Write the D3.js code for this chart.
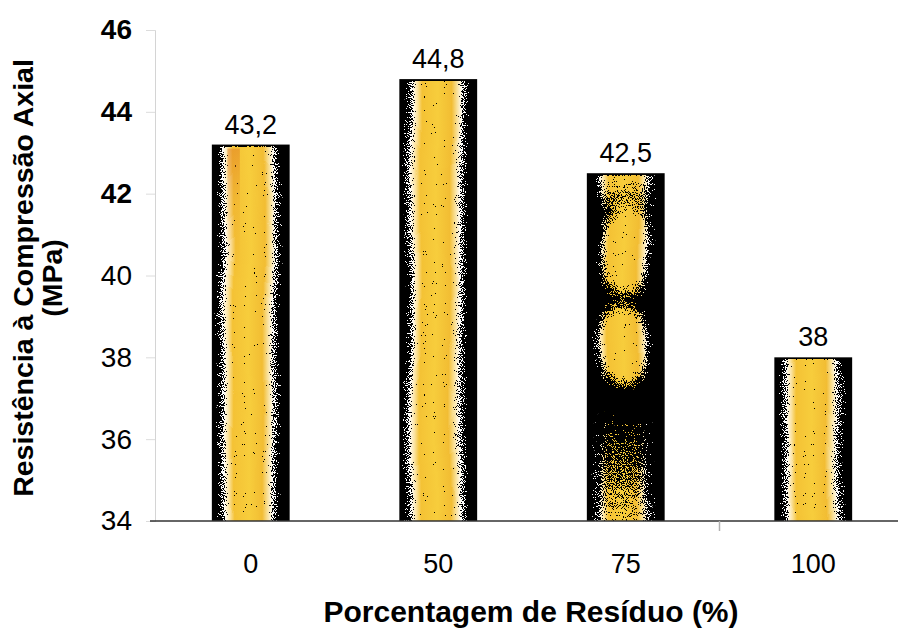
<!DOCTYPE html>
<html>
<head>
<meta charset="utf-8">
<script src="https://cdn.jsdelivr.net/npm/d3@7"></script>
<style>
  body { margin: 0; background: #fff; }
  text { font-family: Arial, "Liberation Sans", sans-serif; fill: #000; }
</style>
</head>
<body>
<script>
// Chart data.
var categories = ["0", "50", "75", "100"],
  values = [43.2, 44.8, 42.5, 38],
  valueLabels = ["43,2", "44,8", "42,5", "38"],
  yTicks = [34, 36, 38, 40, 42, 44, 46];

// Configuration parameters.
var width = 898,
  height = 629,
  plotLeft = 155,
  plotTop = 30,
  plotBottom = 521;

var svg = d3.select("body").append("svg")
    .attr("width", width)
    .attr("height", height),
  defs = svg.append("defs");

// Scales.
var x = d3.scaleBand()
    .domain(categories)
    .range([157, 907])
    .paddingInner(0.585)
    .paddingOuter(0.2925),
  y = d3.scaleLinear()
    .domain([34, 46])
    .range([plotBottom, plotTop]);

// Yellow core of the bars: opaque in the middle, fading out at the sides.
var core = defs.append("linearGradient")
    .attr("id", "core");
[
  [0.05, "#ffffff", 0],
  [0.15, "#ffffff", 0.55],
  [0.22, "#fbe3a0", 1],
  [0.28, "#f4c235", 1],
  [0.48, "#f7cd3c", 1],
  [0.66, "#f2bd33", 1],
  [0.72, "#f8dc8c", 1],
  [0.80, "#ffffff", 0.55],
  [0.90, "#ffffff", 0]
].forEach(function(s) {
  core.append("stop")
    .attr("offset", s[0])
    .attr("stop-color", s[1])
    .attr("stop-opacity", s[2]);
});

// Orange tint laid over part of the core.
var tint = defs.append("linearGradient")
    .attr("id", "tint")
    .attr("x1", 0).attr("y1", 0).attr("x2", 0).attr("y2", 1);
tint.append("stop").attr("offset", 0).attr("stop-color", "#e07a22").attr("stop-opacity", 0.5);
tint.append("stop").attr("offset", 0.4).attr("stop-color", "#e07a22").attr("stop-opacity", 0.15);
tint.append("stop").attr("offset", 1).attr("stop-color", "#e07a22").attr("stop-opacity", 0);

// Speckle filter: wobbles the core and dithers its soft edges into dots.
var f = defs.append("filter")
    .attr("id", "speckle")
    .attr("x", 0).attr("y", 0).attr("width", 1).attr("height", 1)
    .attr("primitiveUnits", "userSpaceOnUse")
    .attr("color-interpolation-filters", "sRGB");
f.append("feTurbulence")
  .attr("type", "fractalNoise")
  .attr("baseFrequency", "0.01 0.008")
  .attr("numOctaves", 2)
  .attr("seed", 3)
  .attr("result", "wave");
f.append("feColorMatrix")
  .attr("in", "wave")
  .attr("type", "matrix")
  .attr("values", "1 0 0 0 0  0 0 0 0 0.5  0 0 0 0 0  0 0 0 0 1")
  .attr("result", "waveXY");
f.append("feDisplacementMap")
  .attr("in", "SourceGraphic")
  .attr("in2", "waveXY")
  .attr("scale", 10)
  .attr("xChannelSelector", "R")
  .attr("yChannelSelector", "G")
  .attr("result", "wobbled");
f.append("feTurbulence")
  .attr("type", "fractalNoise")
  .attr("baseFrequency", 0.9)
  .attr("numOctaves", 1)
  .attr("seed", 7)
  .attr("result", "noise");
f.append("feColorMatrix")
  .attr("in", "noise")
  .attr("type", "matrix")
  .attr("values", "0 0 0 0 0  0 0 0 0 0  0 0 0 0 0  2.2 0 0 0 -0.6")
  .attr("result", "n");
f.append("feComposite")
  .attr("in", "wobbled")
  .attr("in2", "n")
  .attr("operator", "arithmetic")
  .attr("k2", 1).attr("k3", -1).attr("k4", 0)
  .attr("result", "diff");
var ct = f.append("feComponentTransfer")
  .attr("in", "diff")
  .attr("result", "m");
ct.append("feFuncA").attr("type", "linear").attr("slope", 40).attr("intercept", 0);
f.append("feComposite")
  .attr("in", "wobbled")
  .attr("in2", "m")
  .attr("operator", "in")
  .attr("result", "dots");
var op = f.append("feComponentTransfer")
  .attr("in", "dots");
op.append("feFuncA").attr("type", "linear").attr("slope", 20).attr("intercept", 0);

// Mask giving the 75% bar its blotchy look.
var blobGrad = defs.append("radialGradient")
    .attr("id", "blob");
blobGrad.append("stop").attr("offset", 0).attr("stop-color", "#fff");
blobGrad.append("stop").attr("offset", 0.6).attr("stop-color", "#fff");
blobGrad.append("stop").attr("offset", 1).attr("stop-color", "#fff").attr("stop-opacity", 0);
var fadeGrad = defs.append("linearGradient")
    .attr("id", "fade")
    .attr("x1", 0).attr("y1", 0).attr("x2", 0).attr("y2", 1);
fadeGrad.append("stop").attr("offset", 0).attr("stop-color", "#fff").attr("stop-opacity", 0);
fadeGrad.append("stop").attr("offset", 1).attr("stop-color", "#fff").attr("stop-opacity", 0.8);
var topGrad = defs.append("linearGradient")
    .attr("id", "topband")
    .attr("x1", 0).attr("y1", 0).attr("x2", 0).attr("y2", 1);
topGrad.append("stop").attr("offset", 0).attr("stop-color", "#fff").attr("stop-opacity", 0.95);
topGrad.append("stop").attr("offset", 1).attr("stop-color", "#fff").attr("stop-opacity", 0.3);

var m75 = defs.append("mask")
    .attr("id", "mask75")
    .attr("maskContentUnits", "objectBoundingBox");
m75.append("rect").attr("x", 0.12).attr("y", 0).attr("width", 0.76).attr("height", 0.1).attr("fill", "url(#topband)");
m75.append("ellipse").attr("cx", 0.52).attr("cy", 0.215).attr("rx", 0.42).attr("ry", 0.16).attr("fill", "url(#blob)");
m75.append("ellipse").attr("cx", 0.48).attr("cy", 0.49).attr("rx", 0.42).attr("ry", 0.14).attr("fill", "url(#blob)");
m75.append("rect").attr("x", 0).attr("y", 0.68).attr("width", 1).attr("height", 0.32).attr("fill", "url(#fade)");

// Bars.
var bars = svg.append("g")
  .selectAll("g")
    .data(values)
  .enter().append("g");

bars.append("rect")
    .attr("x", function(d, i) { return x(categories[i]); })
    .attr("y", function(d) { return y(d); })
    .attr("width", x.bandwidth())
    .attr("height", function(d) { return y(34) - y(d); })
    .style("fill", "#000");

bars.append("g")
    .attr("filter", "url(#speckle)")
  .append("rect")
    .attr("x", function(d, i) { return x(categories[i]); })
    .attr("y", function(d) { return y(d) + 2; })
    .attr("width", x.bandwidth())
    .attr("height", function(d) { return y(34) - y(d) - 2; })
    .attr("mask", function(d, i) { return categories[i] === "75" ? "url(#mask75)" : null; })
    .style("fill", "url(#core)");

// Orange streak near the top-left of the first bar.
bars.filter(function(d, i) { return i === 0; })
  .append("rect")
    .attr("x", function(d, i) { return x(categories[0]) + x.bandwidth() * 0.2; })
    .attr("y", function(d) { return y(d) + 4; })
    .attr("width", x.bandwidth() * 0.16)
    .attr("height", function(d) { return (y(34) - y(d)) * 0.35; })
    .style("fill", "url(#tint)");

// Value labels.
bars.append("text")
    .attr("x", function(d, i) { return x(categories[i]) + x.bandwidth() / 2; })
    .attr("y", function(d) { return y(d) - 11; })
    .attr("text-anchor", "middle")
    .style("font-size", "27px")
    .text(function(d, i) { return valueLabels[i]; });

// Y axis.
var yAxis = svg.append("g")
    .attr("transform", "translate(" + plotLeft + ",0)")
    .call(d3.axisLeft(y).tickValues(yTicks).tickSize(9).tickPadding(14));
yAxis.select(".domain").attr("stroke", "#d4d4d4");
yAxis.selectAll(".tick line").attr("stroke", "#dcdcdc");
yAxis.selectAll(".tick text")
    .style("font-family", 'Arial, "Liberation Sans", sans-serif')
    .style("font-size", "28px")
    .style("font-weight", function(d) { return d >= 42 ? "bold" : "normal"; })
    .attr("fill", "#000");

// X axis.
var xAxis = svg.append("g")
    .attr("transform", "translate(0," + plotBottom + ")")
    .call(d3.axisBottom(x).tickSize(0).tickPadding(33));
xAxis.select(".domain").remove();
xAxis.selectAll(".tick text")
    .style("font-family", 'Arial, "Liberation Sans", sans-serif')
    .style("font-size", "27px")
    .attr("fill", function(d) { return d === "0" ? "#555" : "#000"; });
xAxis.append("line")
    .attr("x1", 150)
    .attr("x2", width)
    .attr("stroke", "#333")
    .attr("stroke-width", 1.5);
// Category separator still visible between 75 and 100.
xAxis.append("line")
    .attr("x1", x("100") - x.step() * x.paddingInner() / 2)
    .attr("x2", x("100") - x.step() * x.paddingInner() / 2)
    .attr("y1", 0)
    .attr("y2", 10)
    .attr("stroke", "#b0b0b0")
    .attr("stroke-width", 1.5);

// Axis titles.
svg.append("text")
    .attr("x", 531)
    .attr("y", 622)
    .attr("text-anchor", "middle")
    .style("font-size", "30px")
    .style("font-weight", "bold")
    .text("Porcentagem de Resíduo (%)");

var yTitle = svg.append("text")
    .attr("transform", "translate(33,278) rotate(-90)")
    .attr("text-anchor", "middle")
    .style("font-size", "28.5px")
    .style("font-weight", "bold");
yTitle.append("tspan")
    .attr("x", 0)
    .attr("y", 0)
    .text("Resistência à Compressão Axial");
yTitle.append("tspan")
    .attr("x", 0)
    .attr("y", 29)
    .text("(MPa)");
</script>
</body>
</html>
